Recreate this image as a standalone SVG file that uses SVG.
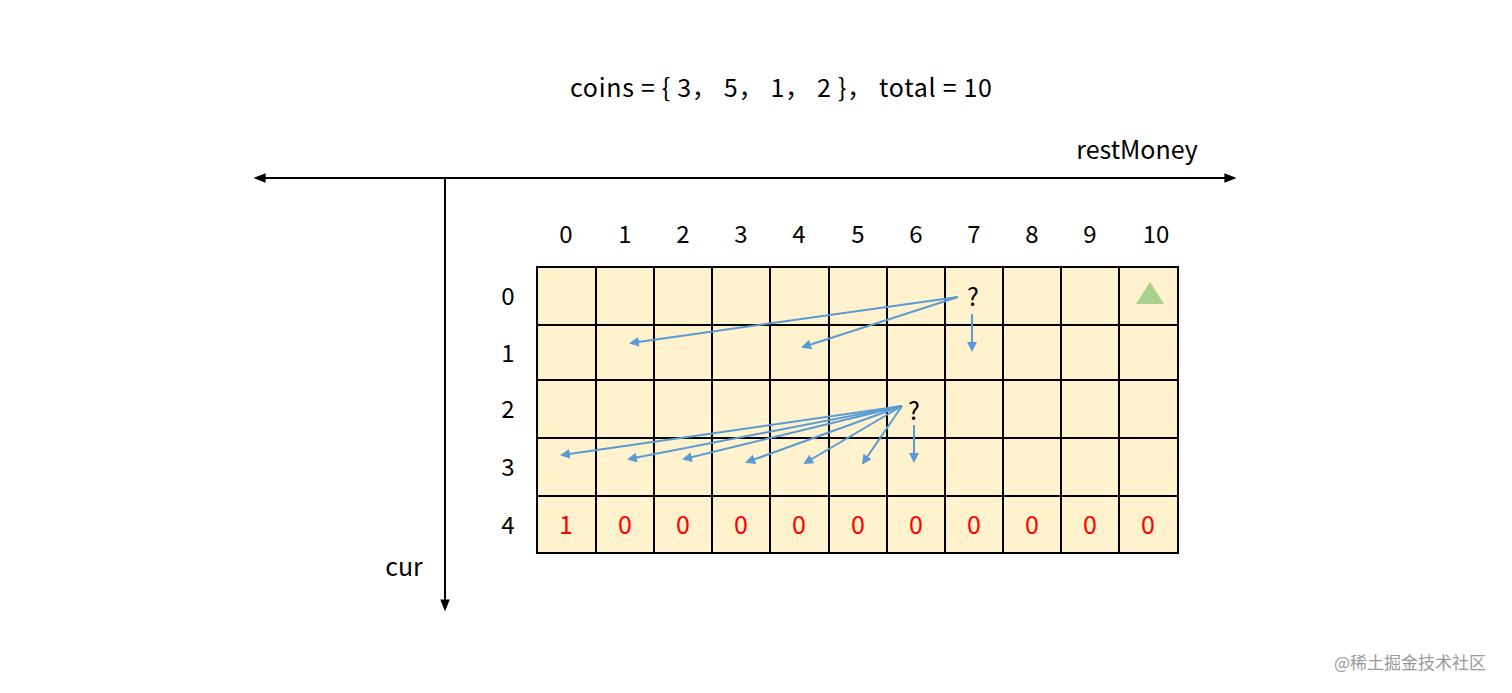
<svg xmlns="http://www.w3.org/2000/svg" width="1512" height="693" viewBox="0 0 1512 693">
<style>
.t{font-family:"Noto Sans CJK SC","Liberation Sans",sans-serif;fill:#000}
.lbl{font-size:24px;text-anchor:middle}
.red{font-size:25px;fill:#ff0000;text-anchor:middle}
.cell{fill:#fff2cc;stroke:#000;stroke-width:2}
.ax{stroke:#000;stroke-width:2;fill:none}
.ar{stroke:#5b9bd5;stroke-width:2;fill:none;marker-end:url(#ba)}
</style>
<defs>
<marker id="ka" viewBox="0 0 10 10" refX="8" refY="5" markerWidth="6" markerHeight="6" orient="auto-start-reverse" markerUnits="strokeWidth"><path d="M0,1 L10,5 L0,9 Z" fill="#000"/></marker>
<marker id="ba" viewBox="0 0 10 10" refX="8" refY="5" markerWidth="5" markerHeight="5" orient="auto" markerUnits="strokeWidth"><path d="M0,0 L10,5 L0,10 Z" fill="#5b9bd5"/></marker>
</defs>
<rect width="1512" height="693" fill="#fff"/>
<text class="t" x="570" y="97" font-size="25" textLength="422" lengthAdjust="spacing">coins = { 3，  5，  1，  2 }，  total = 10</text>
<g id="axes">
<line class="ax" x1="445" y1="178" x2="256" y2="178" marker-end="url(#ka)"/>
<line class="ax" x1="445" y1="178" x2="1234" y2="178" marker-end="url(#ka)"/>
<line class="ax" x1="445" y1="178" x2="445" y2="609" marker-end="url(#ka)"/>
<text class="t" x="1137" y="159" font-size="25" text-anchor="middle">restMoney</text>
<text class="t" x="404" y="576" font-size="25" text-anchor="middle">cur</text>
</g>
<g id="grid">
<rect class="cell" x="537" y="267" width="641" height="286"/>
<path d="M596,267V553M654,267V553M712,267V553M770,267V553M829,267V553M887,267V553M945,267V553M1003,267V553M1061,267V553M1119,267V553M537,325H1178M537,380H1178M537,438H1178M537,496H1178" stroke="#000" stroke-width="2" fill="none"/>
</g>
<g id="col-labels" class="t lbl">
<text x="566" y="243">0</text><text x="625" y="243">1</text><text x="683" y="243">2</text><text x="741" y="243">3</text><text x="799" y="243">4</text><text x="858" y="243">5</text><text x="916" y="243">6</text><text x="974" y="243">7</text><text x="1032" y="243">8</text><text x="1090" y="243">9</text><text x="1156" y="243">10</text>
</g>
<g id="row-labels" class="t lbl">
<text x="508" y="305">0</text><text x="508" y="362">1</text><text x="508" y="418">2</text><text x="508" y="476">3</text><text x="508" y="534">4</text>
</g>
<g id="base-row" class="t red">
<text x="566" y="534">1</text><text x="625" y="534">0</text><text x="683" y="534">0</text><text x="741" y="534">0</text><text x="799" y="534">0</text><text x="858" y="534">0</text><text x="916" y="534">0</text><text x="974" y="534">0</text><text x="1032" y="534">0</text><text x="1090" y="534">0</text><text x="1148" y="534">0</text>
</g>
<g id="target">
<polygon points="1150,282 1164,304 1136,304" fill="#a9d18e"/>
</g>
<g id="q1">
<text class="t" x="973" y="306" font-size="25" text-anchor="middle">?</text>
</g>
<g id="q2">
<text class="t" x="914" y="420" font-size="25" text-anchor="middle">?</text>
</g>
<g id="connectors">
<line class="ar" x1="958" y1="297" x2="631" y2="343"/>
<line class="ar" x1="958" y1="297" x2="803" y2="347"/>
<line class="ar" x1="972" y1="314" x2="972" y2="350"/>
<line class="ar" x1="902" y1="406" x2="562" y2="455"/>
<line class="ar" x1="902" y1="406" x2="629" y2="459"/>
<line class="ar" x1="902" y1="406" x2="684" y2="459"/>
<line class="ar" x1="902" y1="406" x2="747" y2="462"/>
<line class="ar" x1="902" y1="406" x2="805" y2="463"/>
<line class="ar" x1="902" y1="406" x2="863" y2="463"/>
<line class="ar" x1="914" y1="425" x2="914" y2="461"/>
</g>
<text x="1410" y="669" font-family="Noto Sans CJK SC,sans-serif" font-size="17" fill="#9a9a9a" text-anchor="middle">@稀土掘金技术社区</text>
</svg>
